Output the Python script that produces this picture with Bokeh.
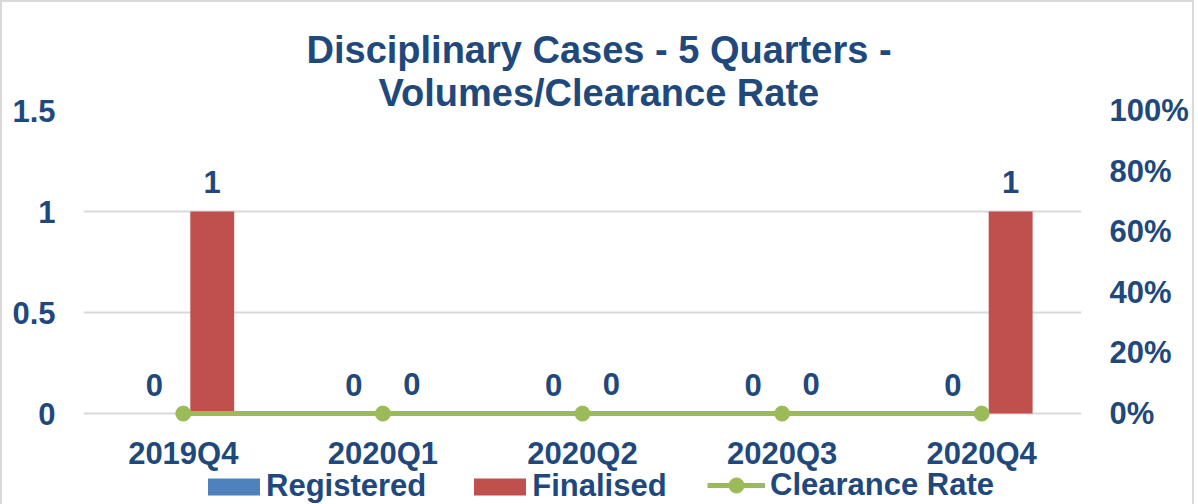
from bokeh.plotting import figure
from bokeh.models import (ColumnDataSource, Range1d, LinearAxis, Legend, LegendItem,
                          LabelSet, FixedTicker, NumeralTickFormatter, Title)
from bokeh.core.properties import value
from bokeh.transform import dodge
from bokeh.embed import file_html
from bokeh.resources import INLINE

quarters = ["2019Q4", "2020Q1", "2020Q2", "2020Q3", "2020Q4"]
registered = [0, 0, 0, 0, 0]
finalised = [1, 0, 0, 0, 1]
clearance_rate = [0, 0, 0, 0, 0]

left_ticks = [0, 0.5, 1, 1.5]
right_ticks = [0, 0.2, 0.4, 0.6, 0.8, 1.0]

TXT = "#1F497D"
FONT = "Liberation Sans"
FS = "31px"

src = ColumnDataSource(dict(
    q=quarters,
    registered=registered,
    finalised=finalised,
    clearance=clearance_rate,
    reg_txt=[str(v) for v in registered],
    fin_txt=[str(v) for v in finalised],
))

# the frame reaches down to the legend row; zero sits 91px above its bottom
pad = 0.45
p = figure(x_range=quarters, y_range=Range1d(-pad, 1.5),
           frame_width=998, frame_height=394,
           min_border_left=81, min_border_right=111, min_border_top=108,
           min_border_bottom=0,
           output_backend="svg", toolbar_location=None,
           background_fill_color="white", border_fill_color="white")
p.outline_line_color = None
p.extra_y_ranges = {"pct": Range1d(-pad / 1.5, 1)}
p.styles = {"border": "2px solid #D9D9D9"}

# titles (line 2 added first so it sits nearest the frame)
t2 = Title(text="Volumes/Clearance Rate", align="left", text_font=FONT,
           text_font_size="38px", text_font_style="bold", text_color=TXT,
           standoff=-6, offset=295)
t1 = Title(text="Disciplinary Cases - 5 Quarters -", align="left", text_font=FONT,
           text_font_size="38px", text_font_style="bold", text_color=TXT,
           standoff=4, offset=223)
p.add_layout(t2, "above")
p.add_layout(t1, "above")

off = 0.145
bw = 0.22
r_reg = p.vbar(x=dodge("q", -off, range=p.x_range), top="registered", width=bw,
               source=src, fill_color="#4F81BD", line_color=None)
r_fin = p.vbar(x=dodge("q", off, range=p.x_range), top="finalised", width=bw,
               source=src, fill_color="#C0504D", line_color=None)
r_line = p.line(x="q", y="clearance", source=src, y_range_name="pct",
                line_color="#9BBB59", line_width=5)
r_pts = p.scatter(x="q", y="clearance", source=src, y_range_name="pct",
                  size=15, fill_color="#9BBB59", line_color="#9BBB59")

for col, txt, o, yo in (("registered", "reg_txt", -off, 18), ("finalised", "fin_txt", off, 19)):
    lab = LabelSet(x=dodge("q", o, range=p.x_range), y=col, text=txt, source=src,
                   text_align="center", text_baseline="alphabetic", y_offset=yo,
                   text_font=value(FONT), text_font_size=value(FS),
                   text_font_style="bold", text_color=TXT)
    p.add_layout(lab)

# axes
p.xaxis.fixed_location = 0
p.xaxis.major_label_standoff = 16
p.yaxis.ticker = FixedTicker(ticks=left_ticks)
p.yaxis.formatter = NumeralTickFormatter(format="0.[0]")
p.yaxis.major_label_standoff = 22

ax_r = LinearAxis(y_range_name="pct", ticker=FixedTicker(ticks=right_ticks),
                  formatter=NumeralTickFormatter(format="0%"),
                  major_label_standoff=22)
p.add_layout(ax_r, "right")

for ax in [p.xaxis[0], p.yaxis[0], ax_r]:
    ax.axis_line_color = None
    ax.major_tick_line_color = None
    ax.minor_tick_line_color = None
    ax.major_label_text_font = FONT
    ax.major_label_text_font_size = FS
    ax.major_label_text_font_style = "bold"
    ax.major_label_text_color = TXT

p.xgrid.grid_line_color = None
p.ygrid.grid_line_color = "#D9D9D9"
p.ygrid.grid_line_width = 2
p.ygrid.ticker = FixedTicker(ticks=left_ticks)

leg_style = dict(orientation="horizontal", label_text_font=FONT,
                 label_text_font_size=FS, label_text_font_style="bold",
                 label_text_color=TXT, label_height=30, margin=0, padding=0,
                 border_line_color=None, background_fill_alpha=0)

legend_bars = Legend(items=[
    LegendItem(label="Registered", renderers=[r_reg]),
    LegendItem(label="Finalised", renderers=[r_fin]),
], location=(118, 0), glyph_width=65, glyph_height=21, label_standoff=0,
    spacing=41, **leg_style)
legend_line = Legend(items=[
    LegendItem(label="Clearance Rate", renderers=[r_line, r_pts]),
], location=(624, 0), glyph_width=58, glyph_height=38, label_standoff=5,
    **leg_style)
p.add_layout(legend_bars, "center")
p.add_layout(legend_line, "center")

open("out.html", "w").write(file_html(p, INLINE))
